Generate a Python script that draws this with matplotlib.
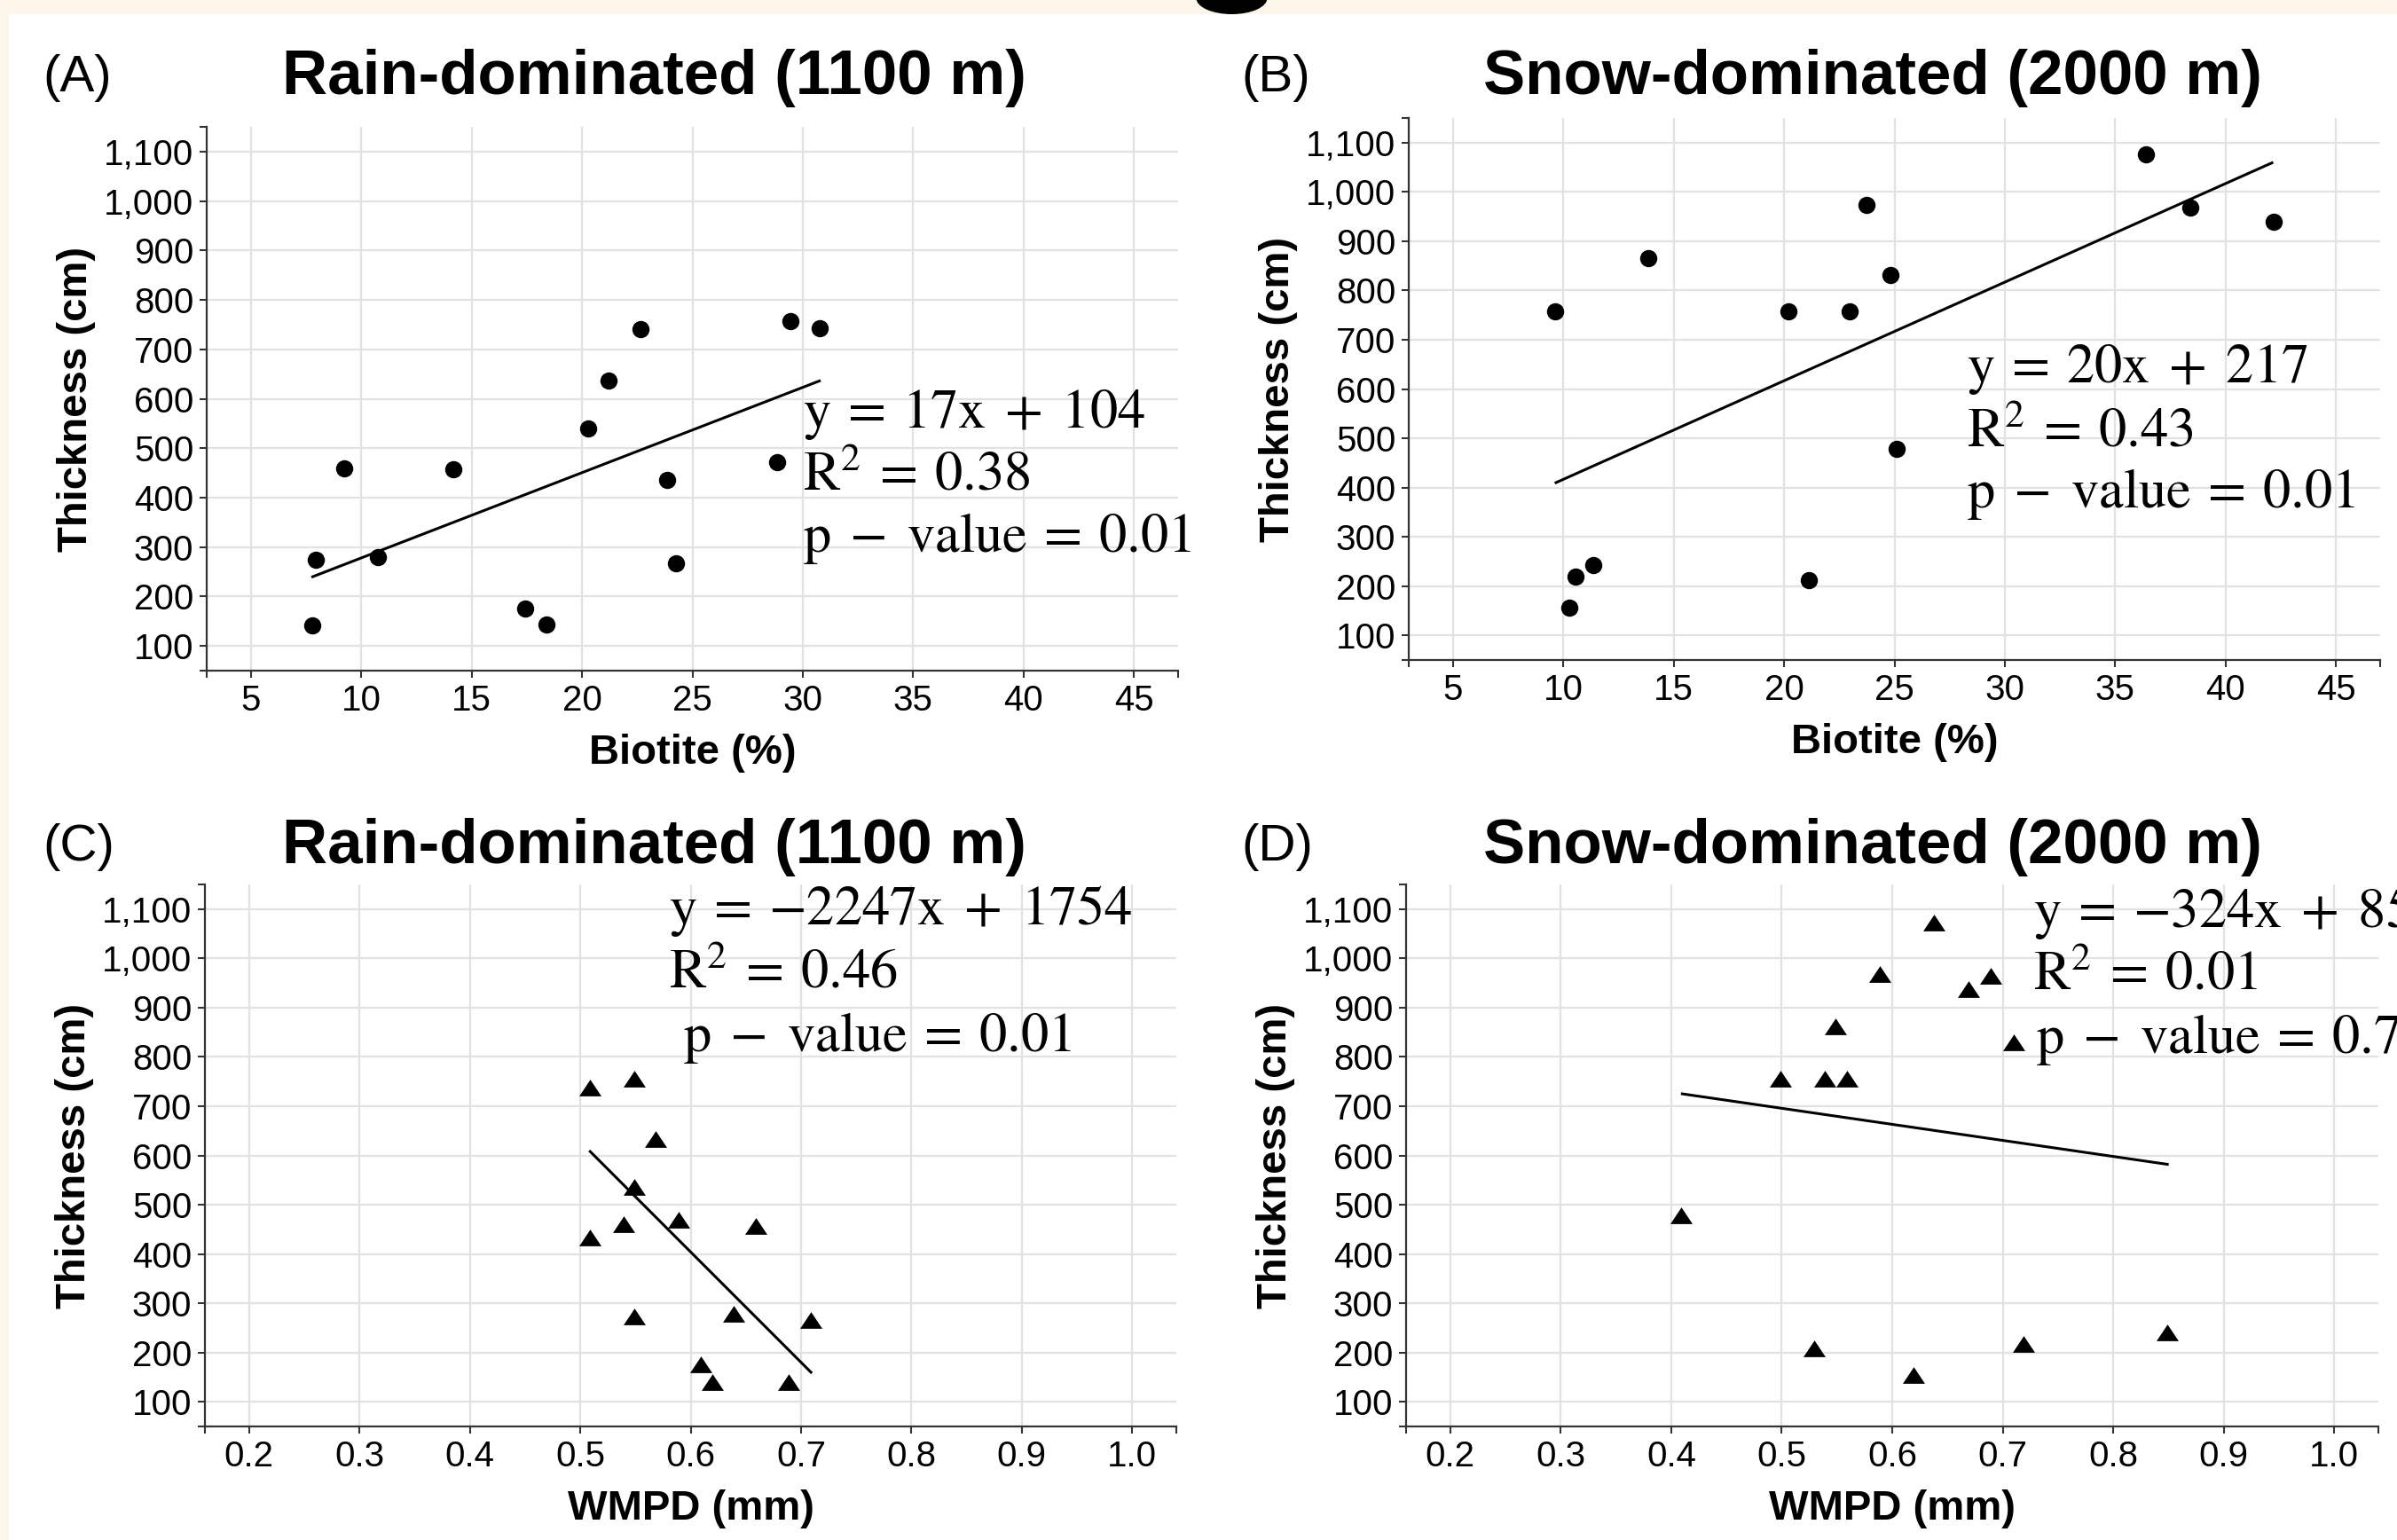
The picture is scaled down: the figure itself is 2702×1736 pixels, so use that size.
import matplotlib
matplotlib.use('Agg')
import matplotlib.pyplot as plt
from matplotlib.patches import Ellipse, Rectangle

W, H = 2702, 1736
DPI = 100

# ---------------- data ----------------
rain_biotite = [7.77, 7.94, 9.22, 10.74, 14.16, 17.44, 18.41, 20.28, 21.21, 22.63, 23.84, 24.25, 28.85, 29.44, 30.75]
rain_thick_b = [142, 274, 460, 279, 457, 175, 144, 539, 636, 740, 435, 267, 471, 757, 742]
snow_biotite = [9.64, 10.26, 10.54, 11.37, 13.86, 20.19, 21.12, 22.96, 23.75, 24.83, 25.10, 36.38, 38.39, 42.16]
snow_thick_b = [758, 156, 219, 242, 866, 758, 212, 758, 973, 832, 479, 1076, 968, 940]
rain_wmpd = [0.509, 0.549, 0.568, 0.549, 0.509, 0.539, 0.589, 0.659, 0.549, 0.639, 0.709, 0.609, 0.620, 0.689]
rain_thick_w = [738, 755, 633, 536, 433, 460, 469, 457, 273, 278, 266, 176, 140, 140]
snow_wmpd = [0.409, 0.499, 0.529, 0.539, 0.559, 0.549, 0.589, 0.619, 0.638, 0.669, 0.689, 0.710, 0.719, 0.849]
snow_thick_w = [478, 755, 208, 755, 755, 862, 968, 155, 1073, 937, 964, 829, 217, 240]

trend_a_x = [7.8, 30.75]
trend_a_y = [240, 636]
trend_b_x = [9.67, 42.1]
trend_b_y = [410, 1059]
trend_c_x = [0.509, 0.709]
trend_c_y = [608, 160]
trend_d_x = [0.41, 0.849]
trend_d_y = [725, 582]

biotite_ticks = [5, 10, 15, 20, 25, 30, 35, 40, 45]
biotite_labels = ['5', '10', '15', '20', '25', '30', '35', '40', '45']
wmpd_ticks = [0.2, 0.3, 0.4, 0.5, 0.6, 0.7, 0.8, 0.9, 1.0]
wmpd_labels = ['0.2', '0.3', '0.4', '0.5', '0.6', '0.7', '0.8', '0.9', '1.0']
thick_ticks = [100, 200, 300, 400, 500, 600, 700, 800, 900, 1000, 1100]
thick_labels = ['100', '200', '300', '400', '500', '600', '700', '800', '900', '1,000', '1,100']

titles = ['Rain-dominated (1100 m)', 'Snow-dominated (2000 m)',
          'Rain-dominated (1100 m)', 'Snow-dominated (2000 m)']
panel_tags = ['(A)', '(B)', '(C)', '(D)']
S = r'\;'  # extra space around binary operators
eq_a = [r'$\mathrm{y\:=\:17x' + S + '+' + S + r'104}$', r'$\mathrm{R^2\:=\:0.38}$',
        r'$\mathrm{p' + S + '-' + S + r'value\:=\:0.01}$']
eq_b = [r'$\mathrm{y\:=\:20x' + S + '+' + S + r'217}$', r'$\mathrm{R^2\:=\:0.43}$',
        r'$\mathrm{p' + S + '-' + S + r'value\:=\:0.01}$']
eq_c = [r'$\mathrm{y\:=\:-2247x' + S + '+' + S + r'1754}$', r'$\mathrm{R^2\:=\:0.46}$',
        r'$\mathrm{p' + S + '-' + S + r'value\:=\:0.01}$']
eq_d = [r'$\mathrm{y\:=\:-324x' + S + '+' + S + r'852}$', r'$\mathrm{R^2\:=\:0.01}$',
        r'$\mathrm{p' + S + '-' + S + r'value\:=\:0.71}$']

# ---------------- style ----------------
plt.rcParams['font.family'] = ['Liberation Sans', 'DejaVu Sans']
plt.rcParams['mathtext.fontset'] = 'stix'
SPINE = '#333333'
GRID = '#e2e2e2'

fig = plt.figure(figsize=(W / DPI, H / DPI), dpi=DPI, facecolor='white')

# cream frame + decoration at the top
fig.patches.append(Rectangle((0, 1 - 16 / H), 1, 16 / H, transform=fig.transFigure,
                             facecolor='#FCF5E9', edgecolor='none', zorder=0))
fig.patches.append(Rectangle((0, 0), 10 / W, 1, transform=fig.transFigure,
                             facecolor='#FCF5E9', edgecolor='none', zorder=0))
fig.patches.append(Ellipse((1388.5 / W, 1 + 2 / H), 80 / W, 36 / H, transform=fig.transFigure,
                           facecolor='black', edgecolor='none', zorder=1))


def px_axes(l, t, r, b):
    return fig.add_axes([l / W, 1 - b / H, (r - l) / W, (b - t) / H])


def ftext(x, y, s, **kw):
    fig.text(x / W, 1 - y / H, s, **kw)


def setup(ax, xticks, xlabels, xlim, xlabel):
    ax.set_xlim(xlim)
    ax.set_ylim(50, 1150)
    ax.set_xticks(xticks)
    ax.set_xticklabels(xlabels)
    ax.set_yticks(thick_ticks)
    ax.set_yticklabels(thick_labels)
    ax.set_xticks(list(xlim), minor=True)
    ax.set_yticks([50, 1150], minor=True)
    ax.tick_params(which='both', direction='out', length=5.5, width=1.5, color=SPINE)
    ax.tick_params(which='major', labelsize=29)
    ax.tick_params(axis='x', which='major', pad=5)
    ax.tick_params(axis='y', which='major', pad=5)
    ax.grid(True, which='major', color=GRID, lw=1.6)
    ax.set_axisbelow(True)
    for s in ['top', 'right']:
        ax.spines[s].set_visible(False)
    for s in ['left', 'bottom']:
        ax.spines[s].set_color(SPINE)
        ax.spines[s].set_linewidth(1.6)
    ax.text(0.5, -0.152, xlabel, transform=ax.transAxes, ha='center', va='center',
            fontsize=34, fontweight='bold')
    ax.text(-0.134, 0.5, 'Thickness (cm)', transform=ax.transAxes, ha='center', va='center',
            rotation=90, fontsize=34, fontweight='bold')


tri = [(-1, -0.75), (1, -0.75), (0, 0.75)]

axA = px_axes(233, 143, 1328, 756)
axB = px_axes(1588, 133, 2683, 744)
axC = px_axes(231, 997, 1326, 1608)
axD = px_axes(1585, 997, 2681, 1608)

setup(axA, biotite_ticks, biotite_labels, (3, 47), 'Biotite (%)')
setup(axB, biotite_ticks, biotite_labels, (3, 47), 'Biotite (%)')
setup(axC, wmpd_ticks, wmpd_labels, (0.16, 1.04), 'WMPD (mm)')
setup(axD, wmpd_ticks, wmpd_labels, (0.16, 1.04), 'WMPD (mm)')

axA.plot(rain_biotite, rain_thick_b, 'o', color='black', ms=14, mew=0, clip_on=False, zorder=3)
axB.plot(snow_biotite, snow_thick_b, 'o', color='black', ms=14, mew=0, clip_on=False, zorder=3)
axC.plot(rain_wmpd, rain_thick_w, marker=tri, ls='none', color='black', ms=18, mew=0, zorder=3)
axD.plot(snow_wmpd, snow_thick_w, marker=tri, ls='none', color='black', ms=18, mew=0, zorder=3)

axA.plot(trend_a_x, trend_a_y, color='black', lw=2.2, zorder=2)
axB.plot(trend_b_x, trend_b_y, color='black', lw=2.2, zorder=2)
axC.plot(trend_c_x, trend_c_y, color='black', lw=2.2, zorder=2)
axD.plot(trend_d_x, trend_d_y, color='black', lw=2.2, zorder=2)

# titles and panel tags
title_pos = [(737, 106), (2111, 106), (737, 973), (2111, 973)]
tag_pos = [(48, 103), (1399, 103), (48, 970), (1399, 970)]
for t, (x, y) in zip(titles, title_pos):
    ftext(x, y, t, ha='center', va='baseline', fontsize=51, fontweight='bold')
for t, (x, y) in zip(panel_tags, tag_pos):
    ftext(x, y, t, ha='left', va='baseline', fontsize=42)

# regression annotations (the right-hand panel's text runs past the edge, as in the source)
EQ = 45
for eq, xs, ys in [(eq_a, [905, 905, 905], [482, 552, 622]),
                   (eq_b, [2217, 2217, 2217], [431, 503, 572]),
                   (eq_c, [754, 754, 770], [1042, 1113, 1185]),
                   (eq_d, [2292, 2292, 2295], [1045, 1115, 1187])]:
    for s, x, y in zip(eq, xs, ys):
        ftext(x, y, s, ha='left', va='baseline', fontsize=EQ, color='black')

fig.savefig('out.png', dpi=DPI, facecolor='white')
